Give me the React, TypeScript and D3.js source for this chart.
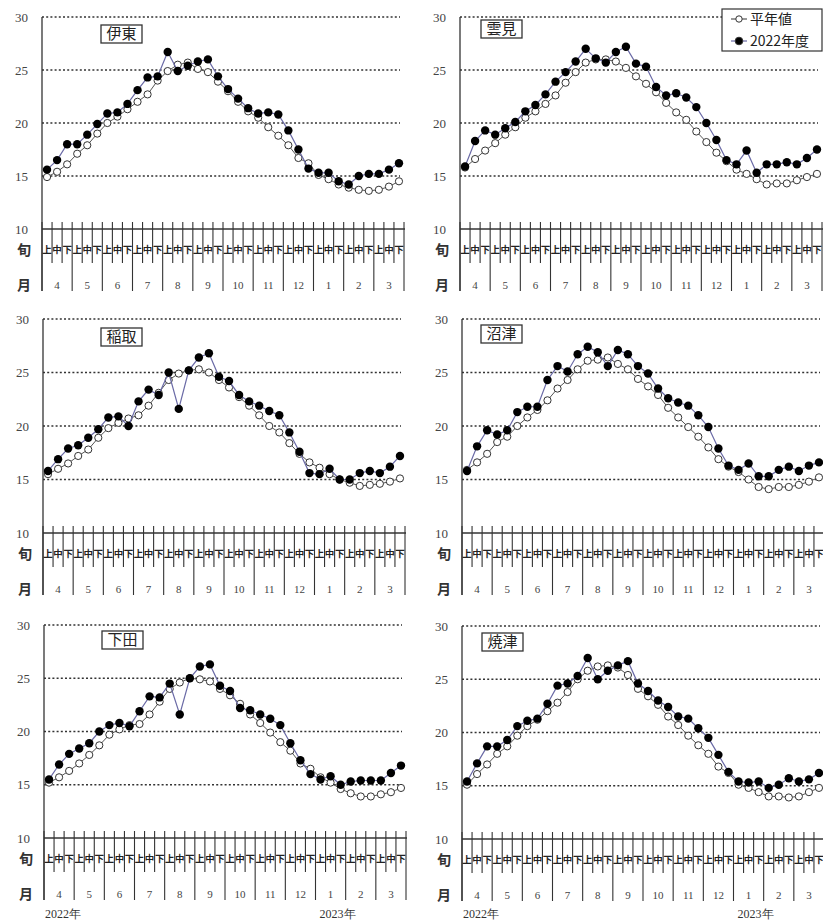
import React, { useEffect, useRef } from "react";
import * as d3 from "d3";

const months = ["4", "5", "6", "7", "8", "9", "10", "11", "12", "1", "2", "3"];
const junLabels = ["上", "中", "下"];
const gridValues = [15, 20, 25, 30];
const yTickValues = [10, 15, 20, 25, 30];

// 伊東
const itoNormal = [14.9, 15.4, 16.1, 17.1, 17.9, 19.0, 20.0, 20.6, 21.3, 22.0, 22.7, 24.0, 24.9, 25.5, 25.7, 25.1, 24.8, 23.9, 23.0, 22.0, 21.1, 20.5, 19.6, 18.8, 17.9, 16.7, 16.2, 15.1, 14.7, 14.2, 13.9, 13.7, 13.6, 13.7, 14.0, 14.5];
const ito2022 = [15.6, 16.5, 18.0, 18.0, 18.9, 19.9, 20.9, 21.0, 21.8, 23.1, 24.3, 24.4, 26.7, 24.9, 25.4, 25.8, 26.0, 24.4, 23.2, 22.3, 21.4, 20.9, 21.0, 20.8, 19.3, 17.5, 15.7, 15.3, 15.3, 14.5, 14.2, 15.0, 15.2, 15.2, 15.6, 16.2];

// 雲見
const kumomiNormal = [15.8, 16.6, 17.4, 18.1, 18.9, 19.6, 20.5, 21.1, 21.8, 22.6, 23.8, 24.8, 25.7, 26.0, 26.0, 25.8, 25.2, 24.4, 23.7, 22.9, 21.9, 21.0, 20.3, 19.2, 18.2, 17.2, 16.4, 15.6, 15.2, 14.7, 14.2, 14.3, 14.3, 14.6, 14.9, 15.2];
const kumomi2022 = [15.9, 18.3, 19.3, 18.9, 19.5, 20.1, 21.1, 21.7, 22.7, 23.9, 24.8, 25.8, 27.0, 26.1, 25.7, 26.7, 27.2, 25.6, 25.3, 23.4, 22.6, 22.8, 22.4, 21.5, 20.0, 18.4, 16.5, 16.1, 17.4, 15.3, 16.1, 16.1, 16.3, 16.1, 16.7, 17.5];

// 稲取
const inatoriNormal = [15.5, 16.0, 16.5, 17.2, 17.8, 18.9, 19.8, 20.3, 20.7, 21.0, 21.9, 23.1, 24.3, 24.9, 25.2, 25.3, 25.0, 24.3, 23.6, 22.7, 21.9, 21.0, 20.0, 19.4, 18.4, 17.4, 16.6, 16.1, 15.5, 15.0, 14.7, 14.4, 14.5, 14.6, 14.8, 15.1];
const inatori2022 = [15.8, 16.9, 17.9, 18.2, 18.9, 19.7, 20.8, 20.9, 20.0, 22.3, 23.4, 22.9, 25.0, 21.6, 25.2, 26.4, 26.8, 24.6, 24.2, 22.9, 22.3, 21.9, 21.4, 21.0, 19.4, 17.6, 15.6, 15.5, 16.0, 15.0, 15.0, 15.6, 15.8, 15.6, 16.2, 17.2];

// 沼津
const numazuNormal = [15.9, 16.6, 17.4, 18.5, 19.0, 20.0, 20.8, 21.5, 22.4, 23.5, 24.3, 25.3, 26.1, 26.2, 26.4, 25.8, 25.3, 24.4, 23.7, 22.9, 21.7, 20.8, 19.9, 19.0, 18.0, 16.9, 16.2, 15.7, 15.0, 14.3, 14.1, 14.3, 14.3, 14.5, 14.8, 15.2];
const numazu2022 = [15.8, 18.1, 19.6, 19.2, 19.6, 21.3, 21.8, 21.8, 24.3, 25.6, 25.1, 26.7, 27.4, 26.9, 25.6, 27.1, 26.7, 25.6, 24.9, 23.5, 22.6, 22.2, 21.9, 21.0, 19.9, 17.9, 16.3, 15.9, 16.5, 15.3, 15.3, 15.9, 16.2, 15.8, 16.3, 16.6];

// 下田
const shimodaNormal = [15.2, 15.7, 16.3, 17.0, 17.8, 18.7, 19.7, 20.2, 20.6, 20.7, 21.6, 22.8, 24.0, 24.6, 25.0, 24.9, 24.7, 24.0, 23.4, 22.6, 21.6, 20.8, 19.9, 19.0, 18.2, 17.0, 16.5, 15.7, 15.2, 14.6, 14.2, 13.9, 13.9, 14.1, 14.3, 14.7];
const shimoda2022 = [15.5, 16.9, 17.9, 18.4, 18.9, 20.0, 20.6, 20.8, 20.5, 21.9, 23.3, 23.2, 24.5, 21.6, 25.0, 26.1, 26.3, 24.3, 23.8, 22.2, 22.0, 21.6, 21.2, 20.6, 18.9, 17.3, 16.0, 15.5, 15.8, 15.0, 15.3, 15.4, 15.4, 15.4, 16.1, 16.8];

// 焼津
const yaizuNormal = [15.1, 16.1, 17.0, 18.0, 18.7, 19.7, 20.6, 21.2, 22.0, 22.8, 23.8, 25.0, 25.8, 26.2, 26.3, 26.1, 25.4, 24.1, 23.4, 22.6, 21.5, 20.7, 19.7, 18.8, 18.0, 16.8, 16.2, 15.1, 14.8, 14.4, 14.0, 14.0, 13.9, 14.0, 14.4, 14.8];
const yaizu2022 = [15.4, 17.1, 18.7, 18.7, 19.3, 20.6, 21.1, 21.3, 22.7, 24.4, 24.6, 25.3, 27.0, 25.0, 25.8, 26.3, 26.7, 24.6, 23.9, 23.0, 22.4, 21.5, 21.3, 20.4, 19.5, 17.9, 16.3, 15.4, 15.3, 15.4, 14.8, 15.1, 15.7, 15.4, 15.6, 16.2];

const serif = "'Liberation Serif', 'DejaVu Serif', serif";
const jp = "'Noto Sans CJK JP', sans-serif";

const Panel = props => {
    const ref = useRef(null);

    useEffect(() => {
        const g = d3.select(ref.current);
        g.selectAll("*").remove();

        const left = props.left;
        const right = left + 362;
        const top = props.top;
        const bottom = props.bottom;

        const x = d3.scaleLinear().domain([0, 36]).range([left, right]);
        const y = d3.scaleLinear().domain([10, 30]).range([bottom, top]);

        // dotted gridlines
        g.selectAll(".grid")
            .data(gridValues)
            .enter().append("line")
                .attr("x1", left)
                .attr("x2", right - 4)
                .attr("y1", d => y(d))
                .attr("y2", d => y(d))
                .attr("stroke", "#333")
                .attr("stroke-width", 1.7)
                .attr("stroke-dasharray", "2,2.2");

        // y labels
        g.selectAll(".ylab")
            .data(yTickValues)
            .enter().append("text")
                .attr("x", left - 14)
                .attr("y", d => y(d))
                .attr("dy", "0.35em")
                .attr("text-anchor", "end")
                .attr("font-family", serif)
                .attr("font-size", 13)
                .attr("fill", "#444")
                .text(d => d);

        // axes
        g.append("line")
            .attr("x1", left).attr("x2", left)
            .attr("y1", top).attr("y2", bottom + 62)
            .attr("stroke", "#333").attr("stroke-width", 1.3);
        g.append("line")
            .attr("x1", left).attr("x2", right + 1)
            .attr("y1", bottom).attr("y2", bottom)
            .attr("stroke", "#333").attr("stroke-width", 1.3);

        // dekad ticks and month dividers
        const bounds = d3.range(37);
        g.selectAll(".tick")
            .data(bounds)
            .enter().append("line")
                .attr("x1", d => x(d))
                .attr("x2", d => x(d))
                .attr("y1", bottom - 7)
                .attr("y2", d => (d % 3 === 0 ? bottom + 62 : bottom + 34))
                .attr("stroke", "#333")
                .attr("stroke-width", 1.1);

        // 上中下
        g.selectAll(".jun")
            .data(d3.range(36))
            .enter().append("text")
                .attr("x", d => x(d + 0.5))
                .attr("y", bottom + 21)
                .attr("dy", "0.35em")
                .attr("text-anchor", "middle")
                .attr("font-family", jp)
                .attr("font-size", 9.5)
                .attr("font-weight", "bold")
                .attr("fill", "#222")
                .text(d => junLabels[d % 3]);

        g.selectAll(".month")
            .data(months)
            .enter().append("text")
                .attr("x", (d, i) => x(i * 3 + 1.5))
                .attr("y", bottom + 56)
                .attr("dy", "0.35em")
                .attr("text-anchor", "middle")
                .attr("font-family", serif)
                .attr("font-size", 11)
                .attr("fill", "#444")
                .text(d => d);

        g.append("text")
            .attr("x", left - 18).attr("y", bottom + 21).attr("dy", "0.35em")
            .attr("text-anchor", "middle")
            .attr("font-family", jp).attr("font-size", 14).attr("font-weight", "bold")
            .attr("fill", "#333")
            .text("旬");
        g.append("text")
            .attr("x", left - 18).attr("y", bottom + 56).attr("dy", "0.35em")
            .attr("text-anchor", "middle")
            .attr("font-family", jp).attr("font-size", 14).attr("font-weight", "bold")
            .attr("fill", "#333")
            .text("月");

        if (props.showYears) {
            g.append("text")
                .attr("x", left + 1).attr("y", 918)
                .attr("font-family", serif).attr("font-size", 12).attr("fill", "#333")
                .text("2022年");
            g.append("text")
                .attr("x", x(27) + 4).attr("y", 918)
                .attr("font-family", serif).attr("font-size", 12).attr("fill", "#333")
                .text("2023年");
        }

        // station label
        const bx = props.labelX;
        const by = top + props.labelDy;
        g.append("rect")
            .attr("x", bx).attr("y", by)
            .attr("width", 41).attr("height", 18)
            .attr("fill", "#fff")
            .attr("stroke", "#333").attr("stroke-width", 1.3);
        g.append("text")
            .attr("x", bx + 20.5).attr("y", by + 9).attr("dy", "0.36em")
            .attr("text-anchor", "middle")
            .attr("font-family", jp).attr("font-size", 15)
            .attr("fill", "#222")
            .text(props.name);

        const line = d3.line()
            .x((d, i) => x(i + 0.5))
            .y(d => y(d));

        // 平年値
        g.append("path")
            .datum(props.normal)
            .attr("d", line)
            .attr("fill", "none")
            .attr("stroke", "#555")
            .attr("stroke-width", 1);
        g.selectAll(".normal")
            .data(props.normal)
            .enter().append("circle")
                .attr("cx", (d, i) => x(i + 0.5))
                .attr("cy", d => y(d))
                .attr("r", 3.6)
                .attr("fill", "#fff")
                .attr("stroke", "#333")
                .attr("stroke-width", 1);

        // 2022年度
        g.append("path")
            .datum(props.current)
            .attr("d", line)
            .attr("fill", "none")
            .attr("stroke", "#6a6aa6")
            .attr("stroke-width", 1.2);
        g.selectAll(".current")
            .data(props.current)
            .enter().append("circle")
                .attr("cx", (d, i) => x(i + 0.5))
                .attr("cy", d => y(d))
                .attr("r", 4.2)
                .attr("fill", "#000");

        if (props.showLegend) {
            const lg = g.append("g");
            lg.append("rect")
                .attr("x", 722).attr("y", 9)
                .attr("width", 100).attr("height", 42)
                .attr("fill", "#fff")
                .attr("stroke", "#333").attr("stroke-width", 1.2);
            const items = [
                { label: "平年値", open: true, color: "#555", yy: 19 },
                { label: "2022年度", open: false, color: "#6a6aa6", yy: 41 }
            ];
            items.forEach(it => {
                lg.append("line")
                    .attr("x1", 731).attr("x2", 747)
                    .attr("y1", it.yy).attr("y2", it.yy)
                    .attr("stroke", it.color).attr("stroke-width", 1.2);
                lg.append("circle")
                    .attr("cx", 739).attr("cy", it.yy)
                    .attr("r", it.open ? 3.2 : 3.8)
                    .attr("fill", it.open ? "#fff" : "#000")
                    .attr("stroke", "#333").attr("stroke-width", 1);
                lg.append("text")
                    .attr("x", 750).attr("y", it.yy).attr("dy", "0.36em")
                    .attr("font-family", jp).attr("font-size", 14)
                    .attr("fill", "#222")
                    .text(it.label);
            });
        }
    }, [props]);

    return <g ref={ref} />;
};

const App = () => {
    return (
        <svg width={823} height={920} style={{ position: "absolute", left: 0, top: 0, background: "#fff" }}>
            <rect width={823} height={920} fill="#fff" />
            <Panel name="伊東" normal={itoNormal} current={ito2022} left={42} top={17} bottom={229} labelX={101} labelDy={8} />
            <Panel name="雲見" normal={kumomiNormal} current={kumomi2022} left={460} top={17} bottom={229} labelX={481} labelDy={3} showLegend />
            <Panel name="稲取" normal={inatoriNormal} current={inatori2022} left={43} top={319} bottom={533} labelX={101} labelDy={9} />
            <Panel name="沼津" normal={numazuNormal} current={numazu2022} left={462} top={319} bottom={533} labelX={481} labelDy={6} />
            <Panel name="下田" normal={shimodaNormal} current={shimoda2022} left={44} top={625} bottom={838} labelX={102} labelDy={6} showYears />
            <Panel name="焼津" normal={yaizuNormal} current={yaizu2022} left={462} top={626} bottom={839} labelX={482} labelDy={7} showYears />
        </svg>
    );
};

export default App;
